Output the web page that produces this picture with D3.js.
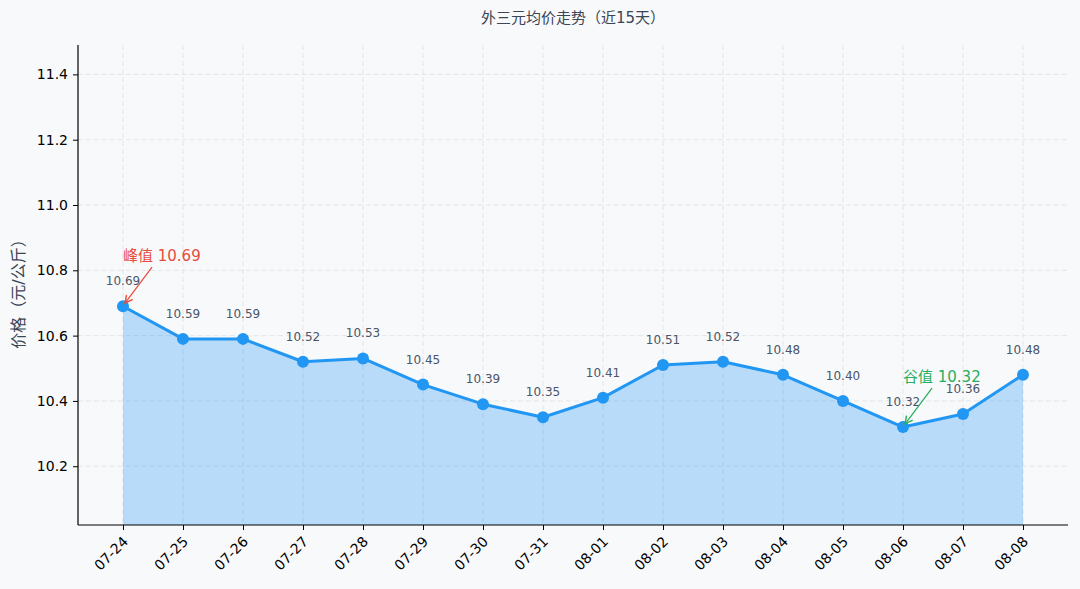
<!DOCTYPE html>
<html><head><meta charset="utf-8">
<script src="https://cdn.jsdelivr.net/npm/d3@7/dist/d3.min.js"></script>
<style>
html,body{margin:0;padding:0;background:#f8f9fb;}
svg{display:block;}
</style></head>
<body>
<svg id="c" width="1080" height="589"></svg>
<script>
const dates = ["07-24","07-25","07-26","07-27","07-28","07-29","07-30","07-31","08-01","08-02","08-03","08-04","08-05","08-06","08-07","08-08"];
const prices = [10.69,10.59,10.59,10.52,10.53,10.45,10.39,10.35,10.41,10.51,10.52,10.48,10.40,10.32,10.36,10.48];
const yTicks = [10.2,10.4,10.6,10.8,11.0,11.2,11.4];
const title = "外三元均价走势（近15天）";
const yLabel = "价格（元/公斤）";

const svg = d3.select("#c");
const W = 1080, H = 589;
const m = {l:78, r:12, t:45, b:64};
const iw = W - m.l - m.r, ih = H - m.t - m.b;
const g = svg.append("g").attr("transform", `translate(${m.l},${m.t})`);

const x = d3.scalePoint().domain(dates).range([45, iw-45]);
const yMin = d3.min(prices) - 0.3, yMax = d3.max(prices) + 0.8;
const y = d3.scaleLinear().domain([yMin, yMax]).range([ih, 0]);

const mix = "'DejaVu Sans','Noto Sans CJK SC',sans-serif";
const dv = "'DejaVu Sans',sans-serif";

// grid
g.append("g").selectAll("line").data(yTicks).join("line")
  .attr("x1",0).attr("x2",iw).attr("y1",d=>y(d)).attr("y2",d=>y(d))
  .attr("stroke","#dfe2e6").attr("stroke-dasharray","5,3").attr("stroke-width",0.9);
g.append("g").selectAll("line").data(dates).join("line")
  .attr("x1",d=>x(d)).attr("x2",d=>x(d)).attr("y1",0).attr("y2",ih)
  .attr("stroke","#dfe2e6").attr("stroke-dasharray","5,3").attr("stroke-width",0.9);

// area
const area = d3.area().x((d,i)=>x(dates[i])).y0(ih).y1(d=>y(d));
g.append("path").datum(prices).attr("d",area).attr("fill","#2196f3").attr("fill-opacity",0.3);
const line = d3.line().x((d,i)=>x(dates[i])).y(d=>y(d));
g.append("path").datum(prices).attr("d",line).attr("fill","none")
  .attr("stroke","#2196f3").attr("stroke-width",3).attr("stroke-linejoin","round");
g.append("g").selectAll("circle").data(prices).join("circle")
  .attr("cx",(d,i)=>x(dates[i])).attr("cy",d=>y(d)).attr("r",6).attr("fill","#2196f3");

// data labels
g.append("g").selectAll("text").data(prices).join("text")
  .attr("x",(d,i)=>x(dates[i])).attr("y",d=>y(d)-21)
  .attr("text-anchor","middle")
  .style("font-family",dv).style("font-size","12px")
  .attr("fill","#4a5568").text(d=>d.toFixed(2));

// axes
const xAxis = g.append("g").attr("transform",`translate(0,${ih})`).call(d3.axisBottom(x).tickSize(5).tickPadding(4));
xAxis.select(".domain").attr("stroke","#000").attr("stroke-width",1.2).attr("d",`M0,0H${iw}`);
xAxis.selectAll(".tick line").attr("stroke","#000");
xAxis.selectAll("text").style("font-family",dv).style("font-size","14px").attr("fill","#000")
  .attr("text-anchor","end").attr("y",0).attr("dx",0).attr("dy","0.35em")
  .attr("transform","translate(2,14) rotate(-45)");

const yAxis = g.append("g").call(d3.axisLeft(y).tickValues(yTicks).tickFormat(d3.format(".1f")).tickSize(5).tickPadding(5));
yAxis.select(".domain").attr("stroke","#000").attr("stroke-width",1.2).attr("d",`M0,0V${ih}`);
yAxis.selectAll(".tick line").attr("stroke","#000");
yAxis.selectAll("text").style("font-family",dv).style("font-size","14px").attr("fill","#000");

// title & labels
svg.append("text").attr("x",m.l+iw/2).attr("y",23).attr("text-anchor","middle")
  .style("font-family",mix).style("font-size","15px").attr("fill","#3a4556").text(title);
svg.append("text").attr("transform",`translate(24,${m.t+ih/2+5}) rotate(-90)`).attr("text-anchor","middle")
  .style("font-family",mix).style("font-size","16px").attr("fill","#3a4556").text(yLabel);

// annotations
const defs = svg.append("defs");
function marker(id,color){
  defs.append("marker").attr("id",id).attr("viewBox","0 0 10 10").attr("refX",9).attr("refY",5)
    .attr("markerWidth",8).attr("markerHeight",8).attr("orient","auto-start-reverse")
    .append("path").attr("d","M1,1L9,5L1,9").attr("fill","none").attr("stroke",color).attr("stroke-width",1.5);
}
marker("ar","#e74c3c"); marker("ag","#27ae60");
const iMax = prices.indexOf(d3.max(prices)), iMin = prices.indexOf(d3.min(prices));
function annotate(i,label,color,mk){
  const px = x(dates[i]), py = y(prices[i]);
  g.append("line").attr("x1",px+29).attr("y1",py-39).attr("x2",px+2).attr("y2",py-3)
    .attr("stroke",color).attr("stroke-width",1.2).attr("marker-end",`url(#${mk})`);
  g.append("text").attr("x",px).attr("y",py-45).style("font-family",mix).style("font-size","15px")
    .attr("fill",color).text(label);
}
annotate(iMax,"峰值 "+prices[iMax].toFixed(2),"#e74c3c","ar");
annotate(iMin,"谷值 "+prices[iMin].toFixed(2),"#27ae60","ag");
</script>
</body></html>
